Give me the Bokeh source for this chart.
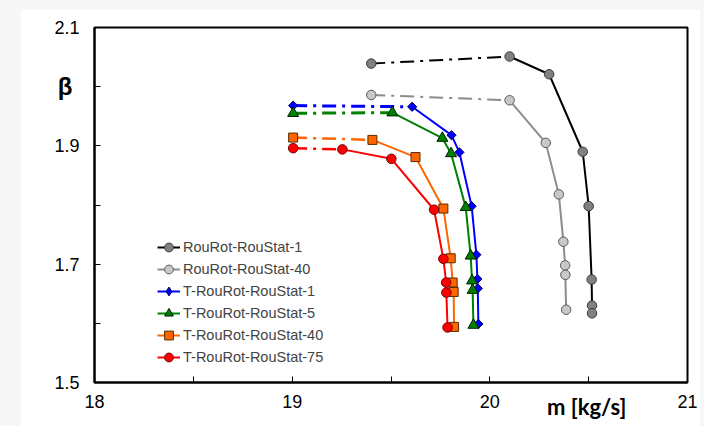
import numpy as np
from bokeh.plotting import figure
from bokeh.models import (Range1d, FixedTicker, Legend, LegendItem, LinearAxis,
                          CustomJSTickFormatter, GlobalInlineStyleSheet)
from bokeh.embed import file_html
from bokeh.resources import INLINE

# ---- data -------------------------------------------------------------
names = ["RouRot-RouStat-1", "RouRot-RouStat-40", "T-RouRot-RouStat-1",
         "T-RouRot-RouStat-5", "T-RouRot-RouStat-40", "T-RouRot-RouStat-75"]

m_rr1 = [19.40, 20.10, 20.30, 20.47, 20.50, 20.515, 20.517, 20.517]
b_rr1 = [2.039, 2.051, 2.021, 1.890, 1.798, 1.674, 1.630, 1.617]

m_rr40 = [19.40, 20.10, 20.283, 20.349, 20.372, 20.381, 20.382, 20.386]
b_rr40 = [1.986, 1.977, 1.905, 1.818, 1.738, 1.698, 1.682, 1.623]

m_t1 = [19.005, 19.607, 19.806, 19.846, 19.908, 19.932, 19.937, 19.939, 19.942]
b_t1 = [1.968, 1.966, 1.918, 1.889, 1.798, 1.716, 1.675, 1.659, 1.599]

m_t5 = [19.005, 19.507, 19.760, 19.804, 19.878, 19.903, 19.910, 19.913, 19.917]
b_t5 = [1.955, 1.956, 1.913, 1.887, 1.796, 1.714, 1.672, 1.656, 1.597]

m_t40 = [19.005, 19.406, 19.624, 19.765, 19.802, 19.812, 19.817, 19.819]
b_t40 = [1.914, 1.910, 1.881, 1.794, 1.710, 1.669, 1.653, 1.594]

m_t75 = [19.005, 19.254, 19.502, 19.718, 19.765, 19.779, 19.780, 19.786]
b_t75 = [1.896, 1.894, 1.878, 1.792, 1.709, 1.669, 1.652, 1.593]

x_ticks = [18, 19, 20, 21]
x_minor = [18.5, 19.5, 20.5]
y_ticks = [1.5, 1.7, 1.9, 2.1]
y_minor = [1.6, 1.8, 2.0]

y_title = "β"
y_title_at = [2.0]          # beta sits beside the 2.0 tick
x_title = "m [kg/s]"
x_title_at = [20.49]        # unit title sits between 20 and 21

series_m = [m_rr1, m_rr40, m_t1, m_t5, m_t40, m_t75]
series_b = [b_rr1, b_rr40, b_t1, b_t5, b_t40, b_t75]

# ---- styles -------------------------------------------------------------
line_colors = ["#000000", "#8c8c8c", "#0000ff", "#008000", "#ff6600", "#ff0000"]
fill_colors = ["#808080", "#c8c8c8", "#0000ff", "#008000", "#ff6600", "#ff0000"]
edge_colors = ["#3a3a3a", "#5a5a5a", "#000060", "#002000", "#5a2a00", "#700000"]
markers = ["circle", "circle", "square", "triangle", "square", "circle"]
legend_markers = ["circle", "circle", "diamond", "triangle", "square", "circle"]
sizes = [9.5, 9.5, 6.5, 11, 9, 9.5]
angles = [0, 0, np.pi / 4, 0, 0, 0]
dash_widths = [2, 2, 3, 3, 2.5, 2.5]

p = figure(width=680, height=417, output_backend="svg", toolbar_location=None,
           x_range=Range1d(18, 21), y_range=Range1d(1.5, 2.1),
           min_border_left=74, min_border_right=13, min_border_top=18,
           min_border_bottom=44)
p.stylesheets = [GlobalInlineStyleSheet(css="body{margin:9px 0 0 20px !important;background:#f7f7f7;}")]
p.background_fill_color = "white"
p.border_fill_color = "white"
p.outline_line_color = "black"
p.outline_line_width = 2
p.xgrid.visible = False
p.ygrid.visible = False

for ax in (p.xaxis[0], p.yaxis[0]):
    ax.axis_line_color = "black"
    ax.axis_line_width = 2
    ax.major_tick_in = 6
    ax.major_tick_out = 0
    ax.minor_tick_in = 6
    ax.minor_tick_out = 0
    ax.major_tick_line_color = "black"
    ax.minor_tick_line_color = "black"
    ax.major_label_text_font = "Liberation Sans"
    ax.major_label_text_font_size = "18px"
    ax.major_label_text_color = "black"

p.xaxis.ticker = FixedTicker(ticks=x_ticks, minor_ticks=x_minor)
p.yaxis.ticker = FixedTicker(ticks=y_ticks, minor_ticks=y_minor)
p.xaxis.major_label_standoff = 12
p.yaxis.major_label_standoff = 15

# extra, line-less axes that carry the axis titles at their spots
beta_axis = LinearAxis(ticker=FixedTicker(ticks=y_title_at, minor_ticks=[]),
                       formatter=CustomJSTickFormatter(code="return %r;" % y_title),
                       axis_line_color=None, major_tick_line_color=None,
                       minor_tick_line_color=None, major_tick_in=0, major_tick_out=0,
                       major_label_standoff=-21, major_label_text_font="Liberation Sans",
                       major_label_text_font_style="bold",
                       major_label_text_font_size="24px", major_label_text_color="black")
p.add_layout(beta_axis, "left")

m_axis = LinearAxis(ticker=FixedTicker(ticks=x_title_at, minor_ticks=[]),
                    formatter=CustomJSTickFormatter(code="return %r;" % x_title),
                    axis_line_color=None, major_tick_line_color=None,
                    minor_tick_line_color=None, major_tick_in=0, major_tick_out=0,
                    major_label_standoff=-18, major_label_text_font="Lato",
                    major_label_text_font_style="bold",
                    major_label_text_font_size="22px", major_label_text_color="black")
p.add_layout(m_axis, "below")

items = []
for i in range(6):
    m = series_m[i]
    b = series_b[i]
    p.line(m[:2], b[:2], line_color=line_colors[i], line_width=dash_widths[i],
           line_dash="14 6 3 6")
    sl = p.line(m[1:], b[1:], line_color=line_colors[i], line_width=2)
    key = None
    if legend_markers[i] != markers[i]:
        # small diamonds hidden under the rotated squares; used for the legend key
        key = p.scatter(m, b, marker=legend_markers[i], size=8,
                        fill_color=fill_colors[i], line_color=edge_colors[i], line_width=1)
    sc = p.scatter(m, b, marker=markers[i], size=sizes[i], angle=angles[i],
                   fill_color=fill_colors[i], line_color=edge_colors[i], line_width=1)
    items.append(LegendItem(label=names[i], renderers=[sl, key if key is not None else sc]))

legend = Legend(items=items, location=(63, 14), border_line_color=None,
                background_fill_alpha=0, padding=0, margin=0, spacing=0,
                glyph_width=23, glyph_height=22, label_height=22, label_standoff=3,
                label_text_font="Liberation Sans", label_text_font_size="14.5px")
p.add_layout(legend)

open("out.html", "w").write(file_html(p, INLINE))
